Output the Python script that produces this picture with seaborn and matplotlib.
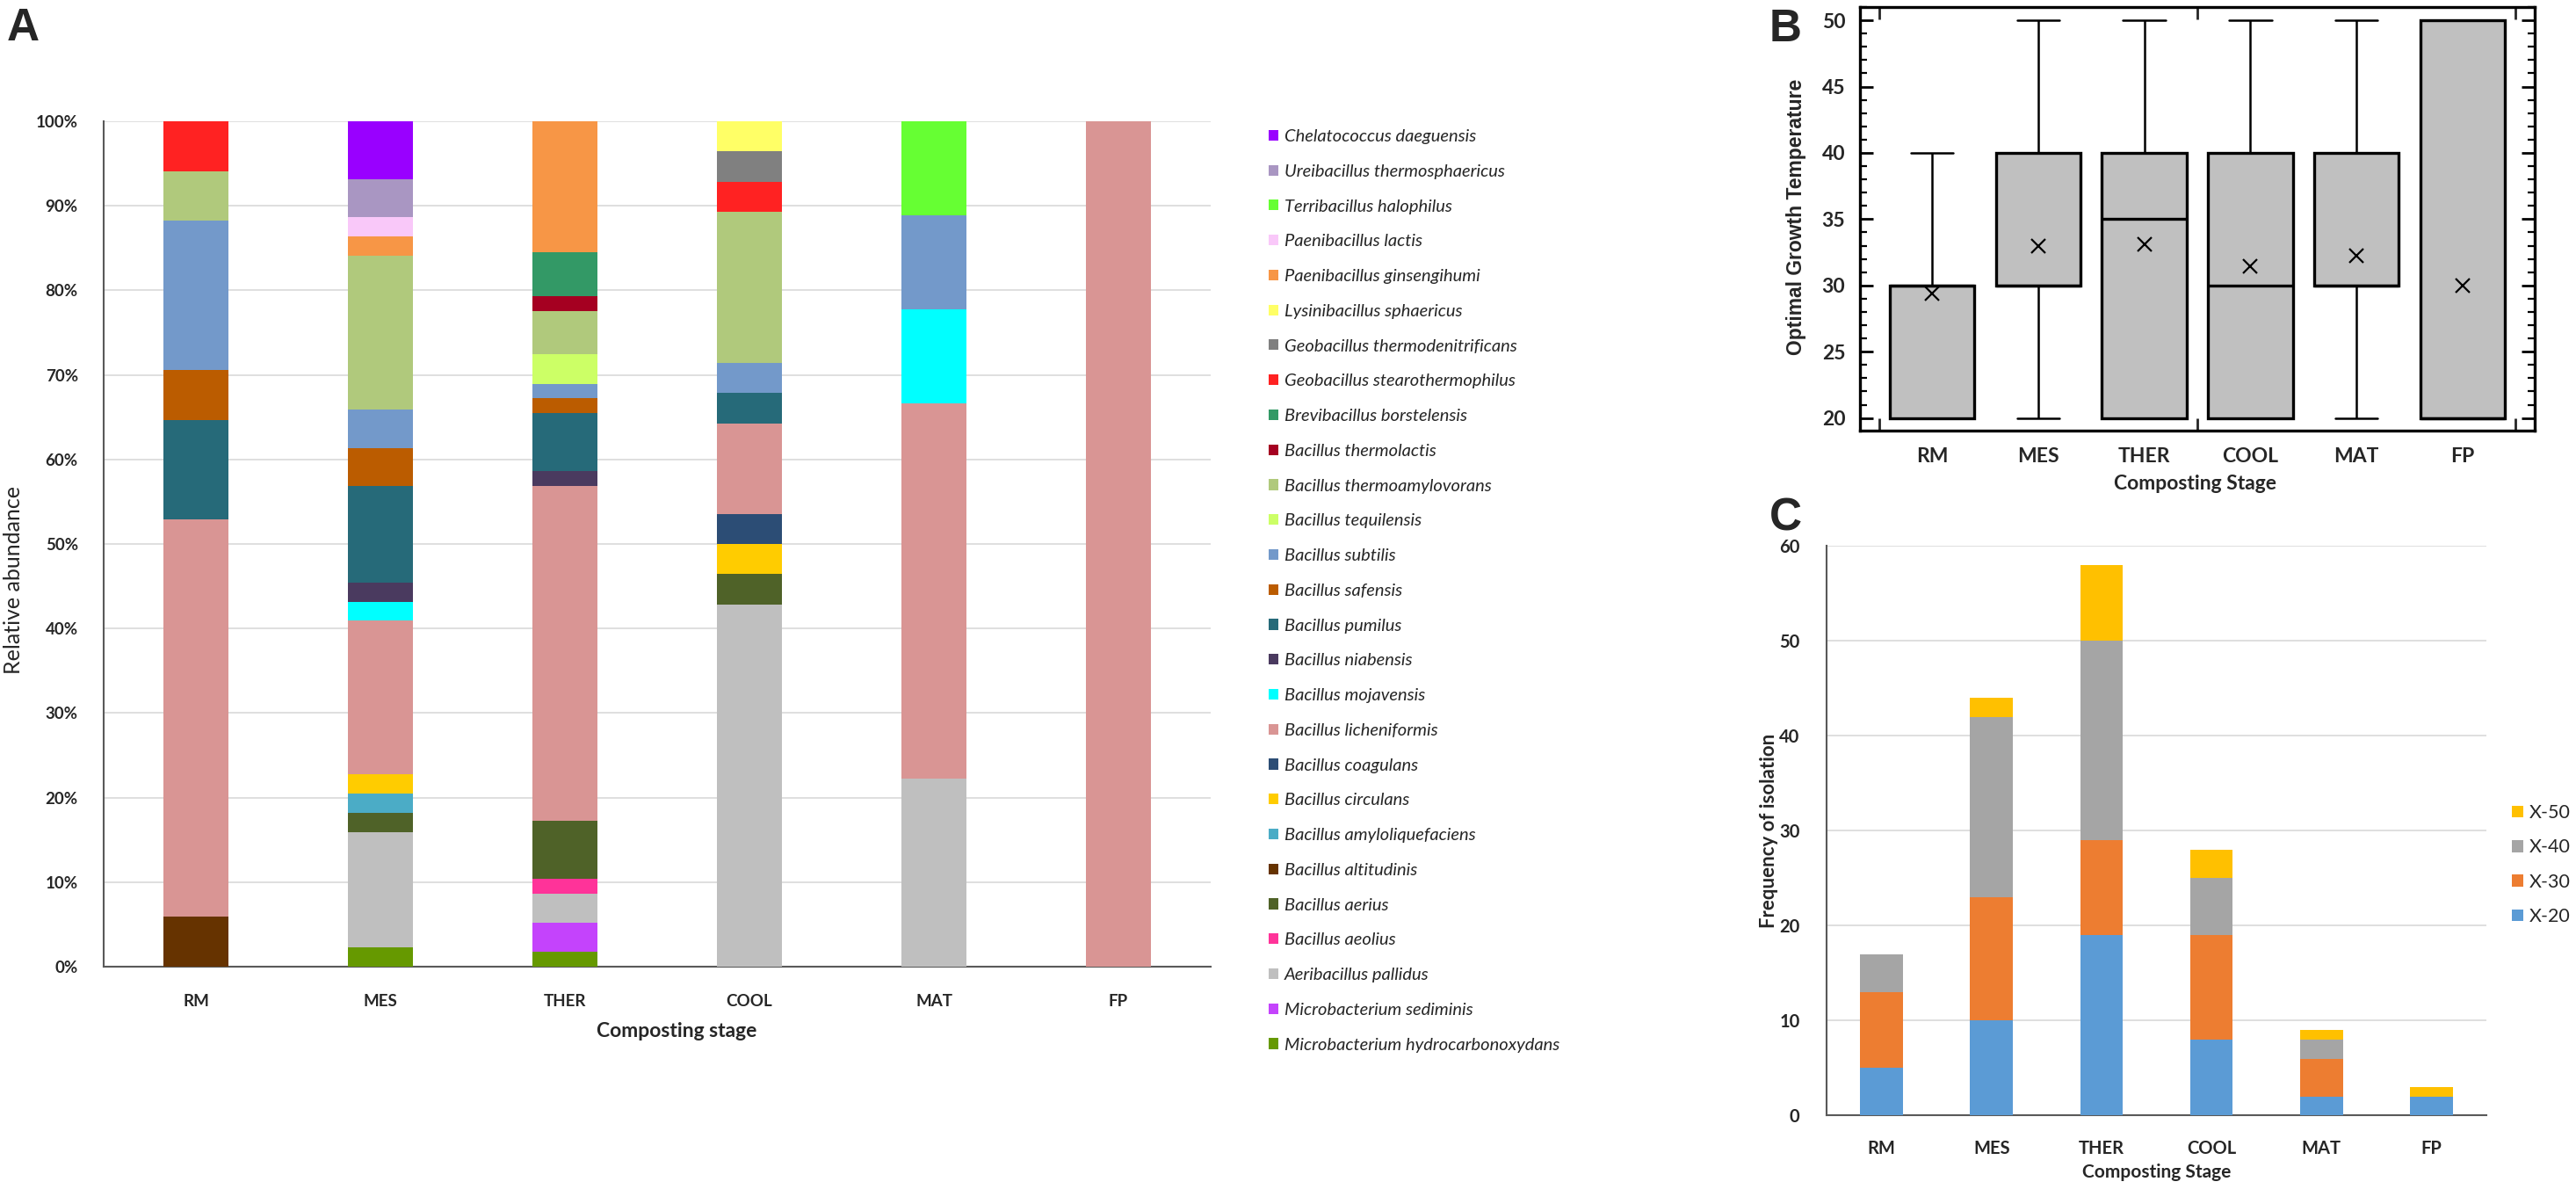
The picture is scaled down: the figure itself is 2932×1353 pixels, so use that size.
import numpy as np
import pandas as pd
import matplotlib
matplotlib.use("Agg")
import matplotlib.pyplot as plt
from matplotlib.patches import Patch
from matplotlib.ticker import MultipleLocator, FixedLocator
import seaborn as sns

# ---------------- data ----------------
STAGES = ["RM", "MES", "THER", "COOL", "MAT", "FP"]

# Panel A: isolate counts per species (legend order, top to bottom) for RM, MES, THER, COOL, MAT, FP
SPECIES = [
    "Chelatococcus daeguensis", "Ureibacillus thermosphaericus", "Terribacillus halophilus",
    "Paenibacillus lactis", "Paenibacillus ginsengihumi", "Lysinibacillus sphaericus",
    "Geobacillus thermodenitrificans", "Geobacillus stearothermophilus", "Brevibacillus borstelensis",
    "Bacillus thermolactis", "Bacillus thermoamylovorans", "Bacillus tequilensis",
    "Bacillus subtilis", "Bacillus safensis", "Bacillus pumilus", "Bacillus niabensis",
    "Bacillus mojavensis", "Bacillus licheniformis", "Bacillus coagulans", "Bacillus circulans",
    "Bacillus amyloliquefaciens", "Bacillus altitudinis", "Bacillus aerius", "Bacillus aeolius",
    "Aeribacillus pallidus", "Microbacterium sediminis", "Microbacterium hydrocarbonoxydans",
]
daeguensis          = [0, 3, 0, 0, 0, 0]
thermosphaericus    = [0, 2, 0, 0, 0, 0]
halophilus          = [0, 0, 0, 0, 1, 0]
lactis              = [0, 1, 0, 0, 0, 0]
ginsengihumi        = [0, 1, 9, 0, 0, 0]
sphaericus          = [0, 0, 0, 1, 0, 0]
thermodenitrificans = [0, 0, 0, 1, 0, 0]
stearothermophilus  = [1, 0, 0, 1, 0, 0]
borstelensis        = [0, 0, 3, 0, 0, 0]
thermolactis        = [0, 0, 1, 0, 0, 0]
thermoamylovorans   = [1, 8, 3, 5, 0, 0]
tequilensis         = [0, 0, 2, 0, 0, 0]
subtilis            = [3, 2, 1, 1, 1, 0]
safensis            = [1, 2, 1, 0, 0, 0]
pumilus             = [2, 5, 4, 1, 0, 0]
niabensis           = [0, 1, 1, 0, 0, 0]
mojavensis          = [0, 1, 0, 0, 1, 0]
licheniformis       = [8, 8, 23, 3, 4, 3]
coagulans           = [0, 0, 0, 1, 0, 0]
circulans           = [0, 1, 0, 1, 0, 0]
amyloliquefaciens   = [0, 1, 0, 0, 0, 0]
altitudinis         = [1, 0, 0, 0, 0, 0]
aerius              = [0, 1, 4, 1, 0, 0]
aeolius             = [0, 0, 1, 0, 0, 0]
pallidus            = [0, 6, 2, 12, 2, 0]
sediminis           = [0, 0, 2, 0, 0, 0]
hydrocarbonoxydans  = [0, 1, 1, 0, 0, 0]
COUNTS_A = [daeguensis, thermosphaericus, halophilus, lactis, ginsengihumi, sphaericus,
            thermodenitrificans, stearothermophilus, borstelensis, thermolactis,
            thermoamylovorans, tequilensis, subtilis, safensis, pumilus, niabensis,
            mojavensis, licheniformis, coagulans, circulans, amyloliquefaciens,
            altitudinis, aerius, aeolius, pallidus, sediminis, hydrocarbonoxydans]
COLORS_A = ["#9900FF", "#A996C2", "#66FF33", "#F9C8F9", "#F79646", "#FFFF66",
            "#808080", "#FF2222", "#339966", "#A50021", "#B0C97C", "#CCFF66",
            "#7399CA", "#BB5C00", "#266A79", "#4A3A5F", "#00FFFF", "#D99594",
            "#2C4D75", "#FFCC00", "#4BACC6", "#663300", "#4F6228", "#FF3399",
            "#BFBFBF", "#C443FC", "#669900"]

# Panel B/C: isolates per optimal growth temperature class
TEMPS = [20, 30, 40, 50]
X20 = [5, 10, 19, 8, 2, 2]
X30 = [8, 13, 10, 11, 4, 0]
X40 = [4, 19, 21, 6, 2, 0]
X50 = [0, 2, 8, 3, 1, 1]
SERIES_C = ["X-20", "X-30", "X-40", "X-50"]
COLORS_C = ["#5B9BD5", "#ED7D31", "#A5A5A5", "#FFC000"]
# Panel B box data (counts at 20/30/40/50 per stage); FP kept at the same 2:1 split
B_RM   = [5, 8, 4, 0]
B_MES  = [10, 13, 19, 2]
B_THER = [19, 10, 21, 8]
B_COOL = [8, 11, 6, 3]
B_MAT  = [2, 4, 2, 1]
B_FP   = [6, 0, 0, 3]
B_COUNTS = [B_RM, B_MES, B_THER, B_COOL, B_MAT, B_FP]

# ---------------- style ----------------
sns.set_style("white")
plt.rcParams["font.family"] = ["Lato", "DejaVu Sans"]

W, H = 2932, 1353
fig = plt.figure(figsize=(W / 100, H / 100), dpi=100)


def axes_px(left, top, right, bottom):
    return fig.add_axes([left / W, 1 - bottom / H, (right - left) / W, (bottom - top) / H])


# ---------------- Panel A ----------------
axA = axes_px(118, 138, 1378, 1100)
counts = np.array(COUNTS_A, dtype=float)
pct = counts / counts.sum(axis=0) * 100
bottom = np.zeros(len(STAGES))
for vals, col in zip(pct[::-1], COLORS_A[::-1]):
    sns.barplot(x=STAGES, y=vals, order=STAGES, bottom=bottom, color=col, saturation=1,
                width=0.35, linewidth=0, errorbar=None, ax=axA, zorder=3)
    bottom = bottom + vals
axA.set_xlim(-0.5, 5.5)
axA.set_ylim(0, 100)
axA.yaxis.set_major_locator(MultipleLocator(10))
axA.set_yticklabels([f"{int(v)}%" for v in axA.get_yticks()])
axA.grid(axis="y", color="#D9D9D9", linewidth=1.2, zorder=0)
axA.set_axisbelow(True)
for s in ["top", "right"]:
    axA.spines[s].set_visible(False)
for s in ["left", "bottom"]:
    axA.spines[s].set_color("#595959")
    axA.spines[s].set_linewidth(1.5)
axA.tick_params(axis="both", length=0, labelsize=13.5)
axA.tick_params(axis="y", pad=21)
axA.tick_params(axis="x", pad=22)
for t in axA.get_xticklabels() + axA.get_yticklabels():
    t.set_fontweight("bold")
axA.set_ylabel("Relative abundance", fontsize=18)
axA.yaxis.set_label_coords(-0.072, 0.457)
axA.set_xlabel("Composting stage", fontsize=16.5, fontweight="bold")
axA.xaxis.set_label_coords(0.518, -0.066)

handlesA = [Patch(facecolor=c, edgecolor="none", label=s) for s, c in zip(SPECIES, COLORS_A)]
fig.legend(handles=handlesA, loc="upper left", bbox_to_anchor=(1444 / W, 1 - 147 / H),
           frameon=False, borderpad=0, handlelength=0.55, handleheight=0.55,
           handletextpad=0.33, labelspacing=1.13, borderaxespad=0,
           prop={"family": "Lato", "style": "italic", "size": 14.5})

# ---------------- Panel B ----------------
axB = axes_px(2117, 8, 2885, 490)
rows = []
for st, cnts in zip(STAGES, B_COUNTS):
    for t, c in zip(TEMPS, cnts):
        rows += [(st, t)] * c
dfB = pd.DataFrame(rows, columns=["stage", "temp"])
sns.boxplot(data=dfB, x="stage", y="temp", order=STAGES, color="#C0C0C0", saturation=1,
            width=0.8, linecolor="black", linewidth=2.4, showfliers=False, showmeans=True,
            meanprops=dict(marker="x", markeredgecolor="black", markerfacecolor="black",
                           markersize=11, markeredgewidth=1.6),
            whiskerprops=dict(linewidth=1.8), capprops=dict(linewidth=1.8),
            ax=axB)
axB.set_xlim(-0.68, 5.68)
axB.set_ylim(19.05, 51.0)
axB.yaxis.set_major_locator(MultipleLocator(5))
axB.yaxis.set_minor_locator(MultipleLocator(1))
axB.xaxis.set_minor_locator(FixedLocator([-0.5, 2.5, 5.5]))
axB.tick_params(axis="y", which="both", direction="in", left=True, right=True, color="black")
axB.tick_params(axis="y", which="major", length=11, width=2, labelsize=16.5, pad=12)
axB.tick_params(axis="y", which="minor", length=6, width=1.6)
axB.tick_params(axis="x", which="major", length=0, labelsize=16.5, pad=14)
axB.tick_params(axis="x", which="minor", direction="in", top=True, bottom=True, length=10, width=2)
for t in axB.get_xticklabels() + axB.get_yticklabels():
    t.set_fontweight("bold")
for s in axB.spines.values():
    s.set_visible(True)
    s.set_color("black")
    s.set_linewidth(2.4)
axB.set_ylabel("Optimal Growth Temperature", fontsize=16.5, fontweight="bold",
               family=["Liberation Sans", "DejaVu Sans"])
axB.yaxis.set_label_coords(-0.079, 0.504)
axB.set_xlabel("Composting Stage", fontsize=16.5, fontweight="bold")
axB.xaxis.set_label_coords(0.497, -0.104)

# ---------------- Panel C ----------------
axC = axes_px(2079, 621.4, 2830, 1269.3)
bottomC = np.zeros(len(STAGES))
for name, vals, col in zip(SERIES_C, [X20, X30, X40, X50], COLORS_C):
    vals = np.array(vals, dtype=float)
    sns.barplot(x=STAGES, y=vals, order=STAGES, bottom=bottomC, color=col, saturation=1,
                width=0.39, linewidth=0, errorbar=None, ax=axC, zorder=3)
    bottomC = bottomC + vals
axC.set_xlim(-0.5, 5.5)
axC.set_ylim(0, 60)
axC.yaxis.set_major_locator(MultipleLocator(10))
axC.grid(axis="y", color="#D9D9D9", linewidth=1.2, zorder=0)
axC.set_axisbelow(True)
for s in ["top", "right"]:
    axC.spines[s].set_visible(False)
for s in ["left", "bottom"]:
    axC.spines[s].set_color("#595959")
    axC.spines[s].set_linewidth(1.5)
axC.tick_params(axis="both", length=0, labelsize=14.5)
axC.tick_params(axis="y", pad=22)
axC.tick_params(axis="x", pad=20)
for t in axC.get_xticklabels() + axC.get_yticklabels():
    t.set_fontweight("bold")
axC.set_ylabel("Frequency of isolation", fontsize=16, fontweight="bold")
axC.yaxis.set_label_coords(-0.073, 0.50)
axC.set_xlabel("Composting Stage", fontsize=15, fontweight="bold")
axC.xaxis.set_label_coords(0.50, -0.085)

handlesC = [Patch(facecolor=c, edgecolor="none", label=n) for n, c in zip(SERIES_C, COLORS_C)][::-1]
fig.legend(handles=handlesC, loc="upper left", bbox_to_anchor=(2859 / W, 1 - 915 / H),
           frameon=False, borderpad=0, handlelength=0.6, handleheight=0.6,
           handletextpad=0.33, labelspacing=0.9, borderaxespad=0,
           prop={"family": "Lato", "size": 15.5})

# ---------------- panel letters ----------------
for letter, x, y in [("A", 8, 8), ("B", 2014, 9), ("C", 2014, 565)]:
    fig.text(x / W, 1 - y / H, letter, fontsize=37, fontweight="bold", ha="left", va="top",
             family=["Liberation Sans", "DejaVu Sans"])

fig.savefig("out.png", dpi=100)
